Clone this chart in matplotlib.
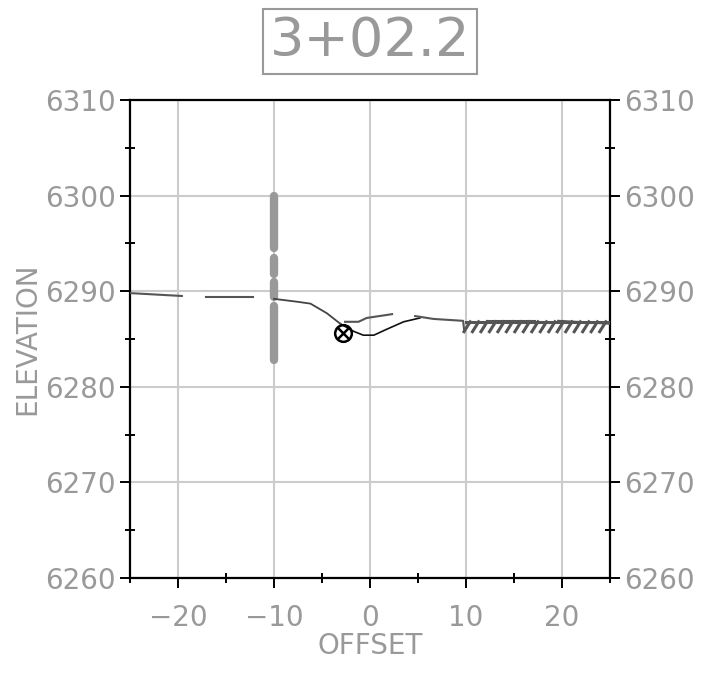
import matplotlib
matplotlib.use("Agg")
import matplotlib.pyplot as plt
from matplotlib import patheffects
from matplotlib.ticker import MultipleLocator

# ground line pieces (offset, elevation)
left_dash_x = [[-25, -19.6], [-17.1, -12.2]]
left_dash_y = [[6289.8, 6289.5], [6289.4, 6289.4]]

slope_x = [-10, -7.6, -6.2, -4.5, -3.1, -1.7, -0.7, 0.4, 1.7, 3.5, 5.2]
slope_y = [6289.2, 6288.9, 6288.7, 6287.7, 6286.6, 6285.8, 6285.4, 6285.4, 6286.0, 6286.8, 6287.2]

mid_x = [-2.6, -1.2, -0.35, 2.3]
mid_y = [6286.8, 6286.8, 6287.2, 6287.6]

right_x = [4.7, 6.6, 9.7, 9.8]
right_y = [6287.4, 6287.1, 6286.9, 6286.0]

# hatched (existing ground) strip
hatch_x = [10.0, 25.0]
hatch_y = [6286.8, 6286.8]
hatch_line_x = [[12.2, 17.2], [19.6, 25]]
hatch_line_y = [[6286.9, 6286.9], [6286.9, 6286.6]]

# vertical pole at -10
pole_x = -10
pole_segs = [[6300, 6294.5], [6293.5, 6291.8], [6291.0, 6289.4], [6288.5, 6282.8]]

marker_x, marker_y = -2.8, 6285.6

title = "3+02.2"
xlim = (-25, 25)
ylim = (6260, 6310)
xticks = [-20, -10, 0, 10, 20]
xticklabels = ["\u221220", "\u221210", "0", "10", "20"]

txt = "#999999"
fig = plt.figure(figsize=(7.19, 6.78), dpi=100)
ax = fig.add_axes([130 / 719, 100 / 678, 480 / 719, 478 / 678])
ax.set_xlim(*xlim)
ax.set_ylim(*ylim)

ax.set_xticks(xticks)
ax.set_xticklabels(xticklabels, fontsize=20)
ax.xaxis.set_minor_locator(MultipleLocator(5))
ax.yaxis.set_major_locator(MultipleLocator(10))
ax.yaxis.set_minor_locator(MultipleLocator(5))
ax.grid(True, which="major", color="#cccccc", linewidth=1.5, zorder=0)
ax.set_axisbelow(True)

for s in ax.spines.values():
    s.set_linewidth(1.6)
ax.tick_params(which="major", direction="out", length=7, width=1.4,
               labelcolor=txt, right=True, labelright=True)
ax.tick_params(axis="y", which="major", labelsize=20, pad=3)
ax.tick_params(which="minor", direction="inout", length=7, width=1.4, right=True)
ax.tick_params(axis="x", which="major", pad=12)

ax.set_xlabel("OFFSET", fontsize=20, color=txt, labelpad=0)
ax.set_ylabel("ELEVATION", fontsize=20, color=txt)
ax.yaxis.set_label_coords(-0.185, 0.5)

# pole
for seg in pole_segs:
    ax.plot([pole_x, pole_x], seg, color="#999999", linewidth=6,
            solid_capstyle="round", zorder=2)

for xs, ys in zip(left_dash_x, left_dash_y):
    ax.plot(xs, ys, color="#555555", linewidth=1.5, zorder=3)
ax.plot(slope_x[4:], slope_y[4:], color="#111111", linewidth=1.2, zorder=3)
ax.plot(slope_x[:5], slope_y[:5], color="#444444", linewidth=1.3, zorder=3)
ax.plot(mid_x, mid_y, color="#555555", linewidth=1.5, zorder=3)
ax.plot(right_x, right_y, color="#555555", linewidth=1.5, zorder=3)
for xs, ys in zip(hatch_line_x, hatch_line_y):
    ax.plot(xs, ys, color="#555555", linewidth=1.5, zorder=3)
ax.plot(hatch_x, hatch_y, color="#555555", linewidth=2.2, zorder=3,
        path_effects=[patheffects.withTickedStroke(angle=-122, spacing=6,
                                                   length=1.4)])

ax.plot([marker_x], [marker_y], marker="o", markersize=12, markerfacecolor="none",
        markeredgecolor="black", markeredgewidth=1.8, zorder=4)
ax.plot([marker_x], [marker_y], marker="x", markersize=8.5,
        markeredgecolor="black", markeredgewidth=1.8, zorder=4)

fig.text(370 / 719, 1 - 41 / 678, title, fontsize=39, color=txt, ha="center", va="center",
         bbox=dict(boxstyle="square,pad=0.12", fc="white", ec=txt, lw=1.5))

fig.savefig("out.png", dpi=100)
